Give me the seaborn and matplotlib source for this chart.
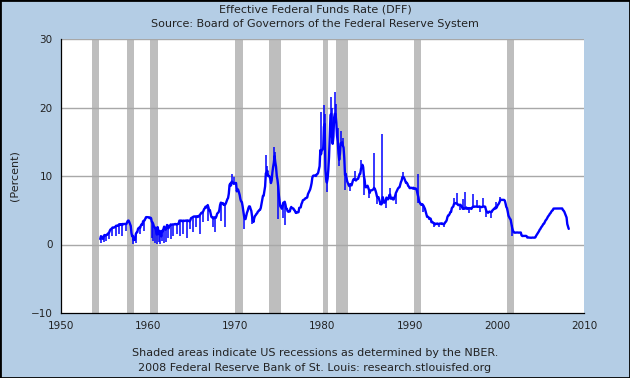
import numpy as np
import pandas as pd
import matplotlib
matplotlib.use("Agg")
import matplotlib.pyplot as plt
from matplotlib.patches import Rectangle
import seaborn as sns

# ---------------- data (monthly effective fed funds rate, %) ----------------
start_year = 1954
start_month = 7  # first observation: July 1954

rates_1950s = [0.80, 1.22, 1.06, 0.85, 0.83, 1.28,
               1.39, 1.29, 1.35, 1.43, 1.43, 1.64, 1.68, 1.96, 2.18, 2.24, 2.35, 2.48,
               2.45, 2.50, 2.50, 2.62, 2.75, 2.71, 2.75, 2.73, 2.95, 2.96, 2.88, 2.94,
               2.84, 3.00, 2.96, 3.00, 3.00, 3.00, 2.99, 3.24, 3.47, 3.50, 3.28, 2.98,
               2.72, 1.67, 1.20, 1.26, 0.63, 0.93, 0.68, 1.53, 1.76, 1.80, 2.27, 2.42,
               2.48, 2.43, 2.80, 2.96, 2.90, 3.39, 3.47, 3.50, 3.76, 3.98, 4.00, 3.99]
rates_1960s = [3.99, 3.97, 3.84, 3.92, 3.85, 3.32, 3.23, 2.98, 2.60, 2.47, 2.44, 1.98,
               1.45, 2.54, 2.02, 1.49, 1.98, 1.73, 1.17, 2.00, 1.88, 2.26, 2.61, 2.33,
               2.15, 2.37, 2.85, 2.78, 2.36, 2.68, 2.71, 2.93, 2.90, 2.90, 2.94, 2.93,
               2.92, 3.00, 2.98, 2.90, 3.00, 2.99, 3.02, 3.49, 3.48, 3.50, 3.48, 3.38,
               3.48, 3.48, 3.43, 3.47, 3.50, 3.50, 3.42, 3.50, 3.45, 3.36, 3.52, 3.85,
               3.90, 3.98, 4.04, 4.09, 4.10, 4.04, 4.09, 4.12, 4.01, 4.08, 4.10, 4.32,
               4.42, 4.60, 4.65, 4.67, 4.90, 5.17, 5.30, 5.53, 5.40, 5.53, 5.76, 5.40,
               4.94, 5.00, 4.53, 4.05, 3.94, 3.98, 3.79, 3.90, 3.99, 3.88, 4.13, 4.51,
               4.61, 4.71, 5.05, 5.76, 6.11, 6.07, 6.02, 6.03, 5.78, 5.91, 5.82, 6.02,
               6.30, 6.61, 6.79, 7.41, 8.67, 8.90, 8.61, 9.19, 9.15, 9.00, 8.85, 8.97]
rates_1970s = [8.98, 8.98, 7.76, 8.10, 7.95, 7.61, 7.21, 6.61, 6.29, 6.20, 5.60, 4.90,
               4.14, 3.72, 3.71, 4.16, 4.63, 4.91, 5.31, 5.57, 5.55, 5.20, 4.91, 4.14,
               3.50, 3.29, 3.83, 4.17, 4.27, 4.46, 4.55, 4.80, 4.87, 5.04, 5.06, 5.33,
               5.94, 6.58, 7.09, 7.12, 7.84, 8.49, 10.40, 10.50, 10.78, 10.01, 10.03, 9.95,
               9.65, 8.97, 9.35, 10.51, 11.31, 11.93, 12.92, 12.01, 11.34, 10.06, 9.45, 8.53,
               7.13, 6.24, 5.54, 5.49, 5.22, 5.55, 6.10, 6.14, 6.24, 5.82, 5.22, 5.20,
               4.87, 4.77, 4.84, 4.82, 5.29, 5.48, 5.31, 5.29, 5.25, 5.02, 4.95, 4.65,
               4.61, 4.68, 4.69, 4.73, 5.35, 5.39, 5.42, 5.90, 6.14, 6.47, 6.51, 6.56,
               6.70, 6.78, 6.79, 6.89, 7.36, 7.60, 7.81, 8.04, 8.45, 8.96, 9.76, 10.03,
               10.07, 10.06, 10.09, 10.01, 10.24, 10.29, 10.47, 10.94, 11.43, 13.77, 13.18, 13.78]
rates_1980s = [13.82, 14.13, 17.19, 17.61, 10.98, 9.47, 9.03, 9.61, 10.87, 12.81, 15.85, 18.90,
               19.08, 15.93, 14.70, 15.72, 18.52, 19.10, 19.04, 17.82, 15.87, 15.08, 13.31, 12.37,
               13.22, 14.78, 14.68, 14.94, 14.45, 14.15, 12.59, 10.12, 10.31, 9.71, 9.20, 8.95,
               8.68, 8.51, 8.77, 8.80, 8.63, 8.98, 9.37, 9.56, 9.45, 9.48, 9.34, 9.47,
               9.56, 9.59, 9.91, 10.29, 10.32, 11.06, 11.23, 11.64, 11.30, 9.99, 9.43, 8.38,
               8.35, 8.50, 8.58, 8.27, 7.97, 7.53, 7.88, 7.90, 7.92, 7.99, 8.05, 8.27,
               8.14, 7.86, 7.48, 6.99, 6.85, 6.92, 6.56, 6.17, 5.89, 5.85, 6.04, 6.91,
               6.43, 6.10, 6.13, 6.37, 6.85, 6.73, 6.58, 6.73, 7.22, 7.29, 6.69, 6.77,
               6.83, 6.58, 6.58, 6.87, 7.09, 7.51, 7.75, 8.01, 8.19, 8.30, 8.35, 8.76,
               9.12, 9.36, 9.85, 9.84, 9.81, 9.53, 9.24, 8.99, 9.02, 8.84, 8.55, 8.45]
rates_1990s = [8.23, 8.24, 8.28, 8.26, 8.18, 8.29, 8.15, 8.13, 8.20, 8.11, 7.81, 7.31,
               6.91, 6.25, 6.12, 5.91, 5.78, 5.90, 5.82, 5.66, 5.45, 5.21, 4.81, 4.43,
               4.03, 4.06, 3.98, 3.73, 3.82, 3.76, 3.25, 3.30, 3.22, 3.10, 3.09, 2.92,
               3.02, 3.03, 3.07, 2.96, 3.00, 3.04, 3.06, 3.03, 3.09, 2.99, 3.02, 2.96,
               3.05, 3.25, 3.34, 3.56, 4.01, 4.25, 4.26, 4.47, 4.73, 4.76, 5.29, 5.45,
               5.53, 5.92, 5.98, 6.05, 6.01, 6.00, 5.85, 5.74, 5.80, 5.76, 5.80, 5.60,
               5.56, 5.22, 5.31, 5.22, 5.24, 5.27, 5.40, 5.22, 5.30, 5.24, 5.31, 5.29,
               5.25, 5.19, 5.39, 5.51, 5.50, 5.56, 5.52, 5.54, 5.54, 5.50, 5.52, 5.50,
               5.56, 5.51, 5.49, 5.45, 5.49, 5.56, 5.54, 5.55, 5.51, 5.07, 4.83, 4.68,
               4.63, 4.76, 4.81, 4.74, 4.74, 4.76, 4.99, 5.07, 5.22, 5.20, 5.42, 5.30]
rates_2000s = [5.45, 5.73, 5.85, 6.02, 6.27, 6.53, 6.54, 6.50, 6.52, 6.51, 6.51, 6.40,
               5.98, 5.49, 5.31, 4.80, 4.21, 3.97, 3.77, 3.65, 3.07, 2.49, 2.09, 1.82,
               1.73, 1.74, 1.73, 1.75, 1.75, 1.75, 1.73, 1.74, 1.75, 1.75, 1.34, 1.24,
               1.24, 1.26, 1.25, 1.26, 1.26, 1.22, 1.01, 1.03, 1.01, 1.01, 1.00, 0.98,
               1.00, 1.01, 1.00, 1.00, 1.00, 1.03, 1.26, 1.43, 1.61, 1.76, 1.93, 2.16,
               2.28, 2.50, 2.63, 2.79, 3.00, 3.04, 3.26, 3.50, 3.62, 3.78, 4.00, 4.16,
               4.29, 4.49, 4.59, 4.79, 4.94, 4.99, 5.24, 5.25, 5.25, 5.25, 5.25, 5.24,
               5.25, 5.26, 5.26, 5.25, 5.25, 5.25, 5.26, 5.02, 4.94, 4.76, 4.49, 4.24,
               3.94, 2.98, 2.61, 2.28]

# daily spikes (decimal year, extreme daily value)
spike_years = [1954.6, 1954.9, 1955.2, 1955.5, 1955.9, 1956.3, 1956.7, 1957.0, 1957.4,
               1958.3, 1958.6, 1959.1, 1959.5, 1960.4, 1960.6, 1960.8, 1961.0, 1961.2,
               1961.4, 1961.6, 1961.8, 1962.0, 1962.3, 1962.6, 1962.9, 1963.3, 1963.7,
               1964.0, 1964.4, 1964.8, 1965.1, 1965.5, 1965.9, 1966.3, 1966.9, 1967.4,
               1967.7, 1968.3, 1968.8, 1969.6, 1969.9, 1971.0, 1971.9, 1973.5, 1973.6,
               1974.4, 1974.6, 1974.9, 1975.5, 1975.7, 1976.95, 1979.8, 1980.2, 1980.3,
               1980.5, 1980.95, 1981.1, 1981.4, 1981.55, 1981.8, 1981.9, 1982.1, 1982.4,
               1982.6, 1983.2, 1983.7, 1984.4, 1984.8, 1985.3, 1985.9, 1986.2, 1986.6,
               1986.85, 1987.3, 1987.8, 1988.4, 1989.25, 1990.97, 1991.0, 1991.5,
               1992.8, 1993.4, 1993.9, 1995.1, 1995.4, 1995.8, 1996.1, 1996.4, 1996.8,
               1997.3, 1997.7, 1998.1, 1998.4, 1998.8, 1999.3, 1999.9, 2000.35,
               2001.3, 2001.7]
spike_values = [0.25, 0.3, 0.5, 0.8, 1.3, 1.2, 1.6, 1.3, 2.0,
                0.1, 0.2, 1.5, 2.0, 1.0, 0.5, 0.2, 0.1, 0.3,
                0.1, 0.5, 0.2, 0.3, 1.0, 0.8, 1.2, 1.5, 1.3,
                1.6, 1.0, 2.2, 1.8, 2.5, 1.6, 3.3, 3.5, 2.5,
                1.8, 3.5, 2.5, 10.3, 9.8, 2.3, 3.0, 13.0, 11.5,
                14.3, 13.5, 3.7, 3.8, 2.8, 4.4, 19.4, 20.4, 19.0,
                7.6, 21.5, 20.0, 22.2, 20.5, 17.0, 11.5, 16.5, 15.5,
                8.0, 7.8, 10.8, 12.3, 7.2, 6.8, 13.4, 5.9, 5.7,
                16.2, 5.3, 8.3, 5.9, 10.6, 10.3, 6.0, 4.8,
                2.5, 2.5, 2.6, 6.8, 7.5, 5.0, 6.6, 7.7, 4.6,
                7.4, 6.5, 4.7, 6.8, 4.0, 3.9, 6.2, 6.9,
                4.7, 1.2]

# NBER recessions (peak, trough) as decimal years
recession_starts = [1953 + 6/12, 1957 + 7/12, 1960 + 3/12, 1969 + 11/12, 1973 + 10/12,
                    1980 + 0/12, 1981 + 6/12, 1990 + 6/12, 2001 + 2/12]
recession_ends = [1954 + 5/12, 1958 + 4/12, 1961 + 2/12, 1970 + 11/12, 1975 + 3/12,
                  1980 + 7/12, 1982 + 11/12, 1991 + 3/12, 2001 + 11/12]

x_ticks = [1950, 1960, 1970, 1980, 1990, 2000, 2010]
y_ticks = [-10, 0, 10, 20, 30]

title_text = "Effective Federal Funds Rate (DFF)"
subtitle_text = "Source: Board of Governors of the Federal Reserve System"
y_label = "(Percent)"
note1 = "Shaded areas indicate US recessions as determined by the NBER."
note2 = "2008 Federal Reserve Bank of St. Louis: research.stlouisfed.org"

# ---------------- build frame ----------------
rates = rates_1950s + rates_1960s + rates_1970s + rates_1980s + rates_1990s + rates_2000s
n = len(rates)
months = np.arange(n) + (start_month - 1)
dates = start_year + months / 12.0
df = pd.DataFrame({"date": dates, "rate": rates})

# ---------------- plot ----------------
BG = "#B4CDE5"
BLUE = "#0000FF"

sns.set_theme(style="white")
plt.rcParams["font.family"] = ["DejaVu Sans"]

fig = plt.figure(figsize=(6.3, 3.78), dpi=100, facecolor=BG)
ax = fig.add_axes([61/630, 1 - 313/378, (584 - 61)/630, (313 - 39)/378])
ax.set_facecolor("white")

for s, e in zip(recession_starts, recession_ends):
    ax.axvspan(s, e, color="#BEBEBE", lw=0, zorder=1)

for yv in [0, 10, 20, 30]:
    ax.axhline(yv, color="#A8A8A8", lw=1.0, zorder=1.5)

base = np.interp(spike_years, df["date"].values, df["rate"].values)
ax.vlines(spike_years, base, spike_values, color=BLUE, lw=1.1, zorder=3)

sns.lineplot(data=df, x="date", y="rate", color=BLUE, linewidth=1.7,
             estimator=None, ax=ax, zorder=3)

ax.set_xlim(1950, 2010)
ax.set_ylim(-10, 30)
ax.set_xticks(x_ticks)
ax.set_xticklabels([str(t) for t in x_ticks])
ax.set_yticks(y_ticks)
ax.set_xlabel("")
ax.set_ylabel(y_label, fontsize=8, color="#222222", labelpad=8)

for side in ["top", "right"]:
    ax.spines[side].set_visible(False)
for side in ["left", "bottom"]:
    ax.spines[side].set_color("black")
    ax.spines[side].set_linewidth(0.9)

ax.tick_params(axis="both", direction="in", length=5, width=0.9, color="black",
               labelsize=7.5, labelcolor="#222222", pad=6)

fig.text(0.5, 1 - 10/378, title_text, ha="center", va="center", fontsize=8, color="#222222")
fig.text(0.5, 1 - 24/378, subtitle_text, ha="center", va="center", fontsize=8, color="#222222")
fig.text(0.5, 1 - 353/378, note1, ha="center", va="center", fontsize=8, color="#222222")
fig.text(0.5, 1 - 368/378, note2, ha="center", va="center", fontsize=8, color="#222222")

fig.patches.append(Rectangle((0, 0), 1, 1, transform=fig.transFigure, fill=False,
                             edgecolor="black", linewidth=2))

fig.savefig("out.png", dpi=100, facecolor=BG)
